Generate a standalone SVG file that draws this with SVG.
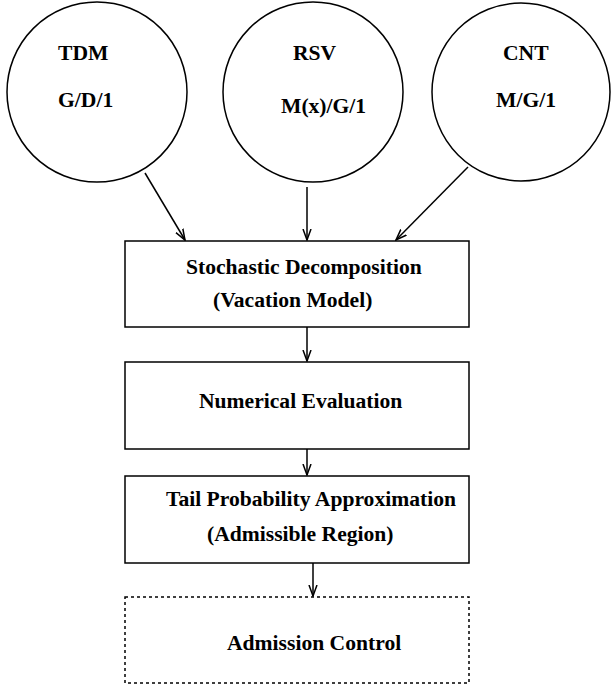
<svg xmlns="http://www.w3.org/2000/svg" width="611" height="687" viewBox="0 0 611 687">
<style>
text{font-family:"Liberation Serif","Times New Roman",serif;font-weight:bold;font-size:21.6px;fill:#000}
.n{fill:none;stroke:#000;stroke-width:1.5}
.d{fill:none;stroke:#000;stroke-width:1.5;stroke-dasharray:3 3}
.c{fill:none;stroke:#000;stroke-width:1.5;marker-end:url(#ah)}
</style>
<defs>
<marker id="ah" viewBox="0 0 12 10" refX="11" refY="5" markerWidth="12" markerHeight="10" markerUnits="userSpaceOnUse" orient="auto">
<path d="M0,1 L11,5 L0,9" fill="none" stroke="#000" stroke-width="1.5"/>
</marker>
</defs>
<rect width="611" height="687" fill="#fff"/>
<g id="tdm">
<circle class="n" cx="97" cy="92" r="90"/>
<text x="58" y="60">TDM</text>
<text x="58" y="107">G/D/1</text>
</g>
<g id="rsv">
<circle class="n" cx="313" cy="92" r="90"/>
<text x="293" y="60">RSV</text>
<text x="281" y="113">M(x)/G/1</text>
</g>
<g id="cnt">
<circle class="n" cx="521" cy="92" r="89"/>
<text x="503" y="60">CNT</text>
<text x="496" y="107">M/G/1</text>
</g>
<g id="decomp">
<rect class="n" x="125" y="241" width="344" height="86"/>
<text x="186" y="274">Stochastic Decomposition</text>
<text x="213" y="307">(Vacation Model)</text>
</g>
<g id="numeval">
<rect class="n" x="125" y="362" width="344" height="87"/>
<text x="199" y="408">Numerical Evaluation</text>
</g>
<g id="tail">
<rect class="n" x="125" y="476" width="344" height="87"/>
<text x="166" y="506">Tail Probability Approximation</text>
<text x="207" y="541">(Admissible Region)</text>
</g>
<g id="admission">
<rect class="d" x="125" y="597" width="344" height="86"/>
<text x="227" y="650">Admission Control</text>
</g>
<g id="connectors">
<line class="c" x1="145" y1="173" x2="185" y2="240"/>
<line class="c" x1="307" y1="187" x2="307" y2="240"/>
<line class="c" x1="468" y1="167" x2="396" y2="240"/>
<line class="c" x1="307" y1="327" x2="307" y2="361"/>
<line class="c" x1="307" y1="449" x2="307" y2="475"/>
<line class="c" x1="313" y1="563" x2="313" y2="596"/>
</g>
</svg>
